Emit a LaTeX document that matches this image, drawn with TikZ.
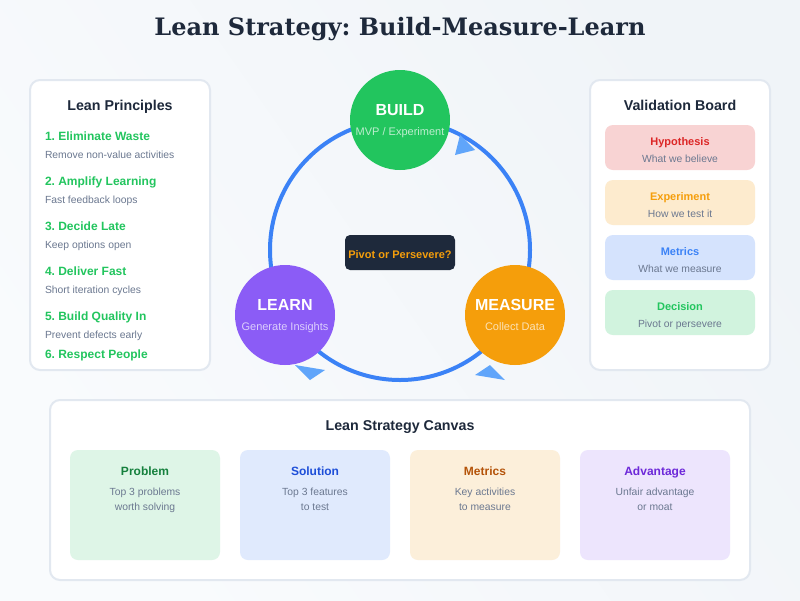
\documentclass[tikz,border=0pt]{standalone}
\usepackage{fontspec}
\setmainfont{Liberation Sans}
\newfontfamily\titlefont{DejaVu Serif}
\usetikzlibrary{positioning}
\frenchspacing
\definecolor{ink}{HTML}{1E293B}
\definecolor{muted}{HTML}{6B7890}
\definecolor{edge}{HTML}{E2E8F0}
\definecolor{ring}{HTML}{3B82F6}
\definecolor{tip}{HTML}{60A5FA}
\definecolor{green}{HTML}{22C55E}
\definecolor{orange}{HTML}{F59E0B}
\definecolor{purple}{HTML}{8B5CF6}
\definecolor{red}{HTML}{DC2626}
\definecolor{bgstart}{HTML}{F9FBFD}
\definecolor{bgend}{HTML}{F0F4F8}
\definecolor{redcard}{HTML}{F8D3D3}
\definecolor{orangecard}{HTML}{FDEBCE}
\definecolor{bluecard}{HTML}{D5E3FD}
\definecolor{greencard}{HTML}{D1F3DE}
\definecolor{problemcard}{HTML}{DEF5E7}
\definecolor{solutioncard}{HTML}{E0EAFD}
\definecolor{metricscard}{HTML}{FCEFDA}
\definecolor{advantagecard}{HTML}{EDE5FD}
\definecolor{problemtext}{HTML}{15803D}
\definecolor{solutiontext}{HTML}{1D4ED8}
\definecolor{metricstext}{HTML}{B45309}
\definecolor{advantagetext}{HTML}{6D28D9}
\newcommand{\fs}[1]{\fontsize{#1}{#1}\selectfont}

\begin{document}
\begin{tikzpicture}[
            x=1pt, y=-1pt,
            panel/.style={
                rectangle, rounded corners=10pt, fill=white,
                draw=edge, line width=2pt, outer sep=0pt
            },
            stage/.style={
                circle, minimum size=100pt, inner sep=0pt, outer sep=0pt
            },
            card/.style={
                rectangle, rounded corners=8pt, outer sep=0pt, inner sep=0pt,
                minimum width=150pt, minimum height=45pt
            },
            canvascard/.style={card, minimum height=110pt},
            label/.style={anchor=base, inner sep=0pt, outer sep=0pt},
            heading/.style={label, font=\fs{14.25}\bfseries, text=ink},
            stagename/.style={label, font=\fs{16}\bfseries, text=white},
            stagesub/.style={label, font=\fs{11}, text=white, text opacity=0.7},
            principle/.style={label, anchor=base west, font=\fs{12}\bfseries, text=green},
            principlesub/.style={label, anchor=base west, font=\fs{10.35}, text=muted},
            cardname/.style={label, font=\fs{11}\bfseries},
            cardsub/.style={label, font=\fs{10.35}, text=muted},
            canvasname/.style={label, font=\fs{12}\bfseries},
        ]
            \useasboundingbox (0,0) rectangle (800,600);
            \shade[shading=axis, left color=bgstart, right color=bgend, shading angle=125]
                (0,0) rectangle (800,600);

            \node [label, font=\titlefont\fs{24}\bfseries, text=ink] (title) at (400,35) {Lean Strategy: Build-Measure-Learn};

            % left panel
            \node [panel, minimum width=180pt, minimum height=290pt] (principles) at (120,225) {};
            \node [heading] (principleshead) at (120,110) {Lean Principles};
            \node [principle] (elim) at (45,140) {1. Eliminate Waste};
            \node [principlesub] (elimsub) at (45,158) {Remove non-value activities};
            \node [principle] (amp) at (45,185) {2. Amplify Learning};
            \node [principlesub] (ampsub) at (45,203) {Fast feedback loops};
            \node [principle] (late) at (45,230) {3. Decide Late};
            \node [principlesub] (latesub) at (45,248) {Keep options open};
            \node [principle] (fast) at (45,275) {4. Deliver Fast};
            \node [principlesub] (fastsub) at (45,293) {Short iteration cycles};
            \node [principle] (quality) at (45,320) {5. Build Quality In};
            \node [principlesub] (qualitysub) at (45,338) {Prevent defects early};
            \node [principle] (people) at (45,358) {6. Respect People};

            % the loop
            \coordinate (loopcentre) at (400,250);
            \draw [ring, line width=4pt] (loopcentre) circle [radius=130];
            \fill [tip] (460,135) -- (475,150) -- (455,155) -- cycle;
            \fill [tip] (505,380) -- (475,375) -- (490,365) -- cycle;
            \fill [tip] (295,365) -- (325,370) -- (310,380) -- cycle;

            \node [stage, fill=green] (build) at (400,120) {};
            \node [stage, fill=orange] (measure) at (515,315) {};
            \node [stage, fill=purple] (learn) at (285,315) {};
            \node [stagename] (buildname) at (400,115) {BUILD};
            \node [stagesub] (buildsub) at (400,135) {MVP / Experiment};
            \node [stagename] (measurename) at (515,310) {MEASURE};
            \node [stagesub] (measuresub) at (515,330) {Collect Data};
            \node [stagename] (learnname) at (285,310) {LEARN};
            \node [stagesub] (learnsub) at (285,330) {Generate Insights};

            \node [rectangle, rounded corners=5pt, fill=ink, minimum width=110pt, minimum height=35pt, outer sep=0pt] (pivot) at (400,252.5) {};
            \node [label, font=\fs{11}\bfseries, text=orange] (pivotlabel) at (400,258) {Pivot or Persevere?};

            % right panel
            \node [panel, minimum width=180pt, minimum height=290pt] (board) at (680,225) {};
            \node [heading] (boardhead) at (680,110) {Validation Board};
            \node [card, fill=redcard] (hypothesis) at (680,147.5) {};
            \node [card, fill=orangecard] (experiment) [below=10pt of hypothesis] {};
            \node [card, fill=bluecard] (metrics) [below=10pt of experiment] {};
            \node [card, fill=greencard] (decision) [below=10pt of metrics] {};
            \node [cardname, text=red] (hypothesisname) at ([yshift=-20pt]hypothesis.north) {Hypothesis};
            \node [cardsub] (hypothesissub) at ([yshift=-37pt]hypothesis.north) {What we believe};
            \node [cardname, text=orange] (experimentname) at ([yshift=-20pt]experiment.north) {Experiment};
            \node [cardsub] (experimentsub) at ([yshift=-37pt]experiment.north) {How we test it};
            \node [cardname, text=ring] (metricsname) at ([yshift=-20pt]metrics.north) {Metrics};
            \node [cardsub] (metricssub) at ([yshift=-37pt]metrics.north) {What we measure};
            \node [cardname, text=green] (decisionname) at ([yshift=-20pt]decision.north) {Decision};
            \node [cardsub] (decisionsub) at ([yshift=-37pt]decision.north) {Pivot or persevere};

            % bottom panel
            \node [panel, minimum width=700pt, minimum height=180pt] (canvas) at (400,490) {};
            \node [heading] (canvashead) at (400,430) {Lean Strategy Canvas};
            \node [canvascard, fill=problemcard] (problem) at (145,505) {};
            \node [canvascard, fill=solutioncard] (solution) [right=20pt of problem] {};
            \node [canvascard, fill=metricscard] (canvasmetrics) [right=20pt of solution] {};
            \node [canvascard, fill=advantagecard] (advantage) [right=20pt of canvasmetrics] {};
            \node [canvasname, text=problemtext] (problemname) at ([yshift=-25pt]problem.north) {Problem};
            \node [cardsub] (problemsub) at ([yshift=-45pt]problem.north) {Top 3 problems};
            \node [cardsub] (problemsubb) at ([yshift=-60pt]problem.north) {worth solving};
            \node [canvasname, text=solutiontext] (solutionname) at ([yshift=-25pt]solution.north) {Solution};
            \node [cardsub] (solutionsub) at ([yshift=-45pt]solution.north) {Top 3 features};
            \node [cardsub] (solutionsubb) at ([yshift=-60pt]solution.north) {to test};
            \node [canvasname, text=metricstext] (canvasmetricsname) at ([yshift=-25pt]canvasmetrics.north) {Metrics};
            \node [cardsub] (canvasmetricssub) at ([yshift=-45pt]canvasmetrics.north) {Key activities};
            \node [cardsub] (canvasmetricssubb) at ([yshift=-60pt]canvasmetrics.north) {to measure};
            \node [canvasname, text=advantagetext] (advantagename) at ([yshift=-25pt]advantage.north) {Advantage};
            \node [cardsub] (advantagesub) at ([yshift=-45pt]advantage.north) {Unfair advantage};
            \node [cardsub] (advantagesubb) at ([yshift=-60pt]advantage.north) {or moat};

        \end{tikzpicture}
\end{document}
